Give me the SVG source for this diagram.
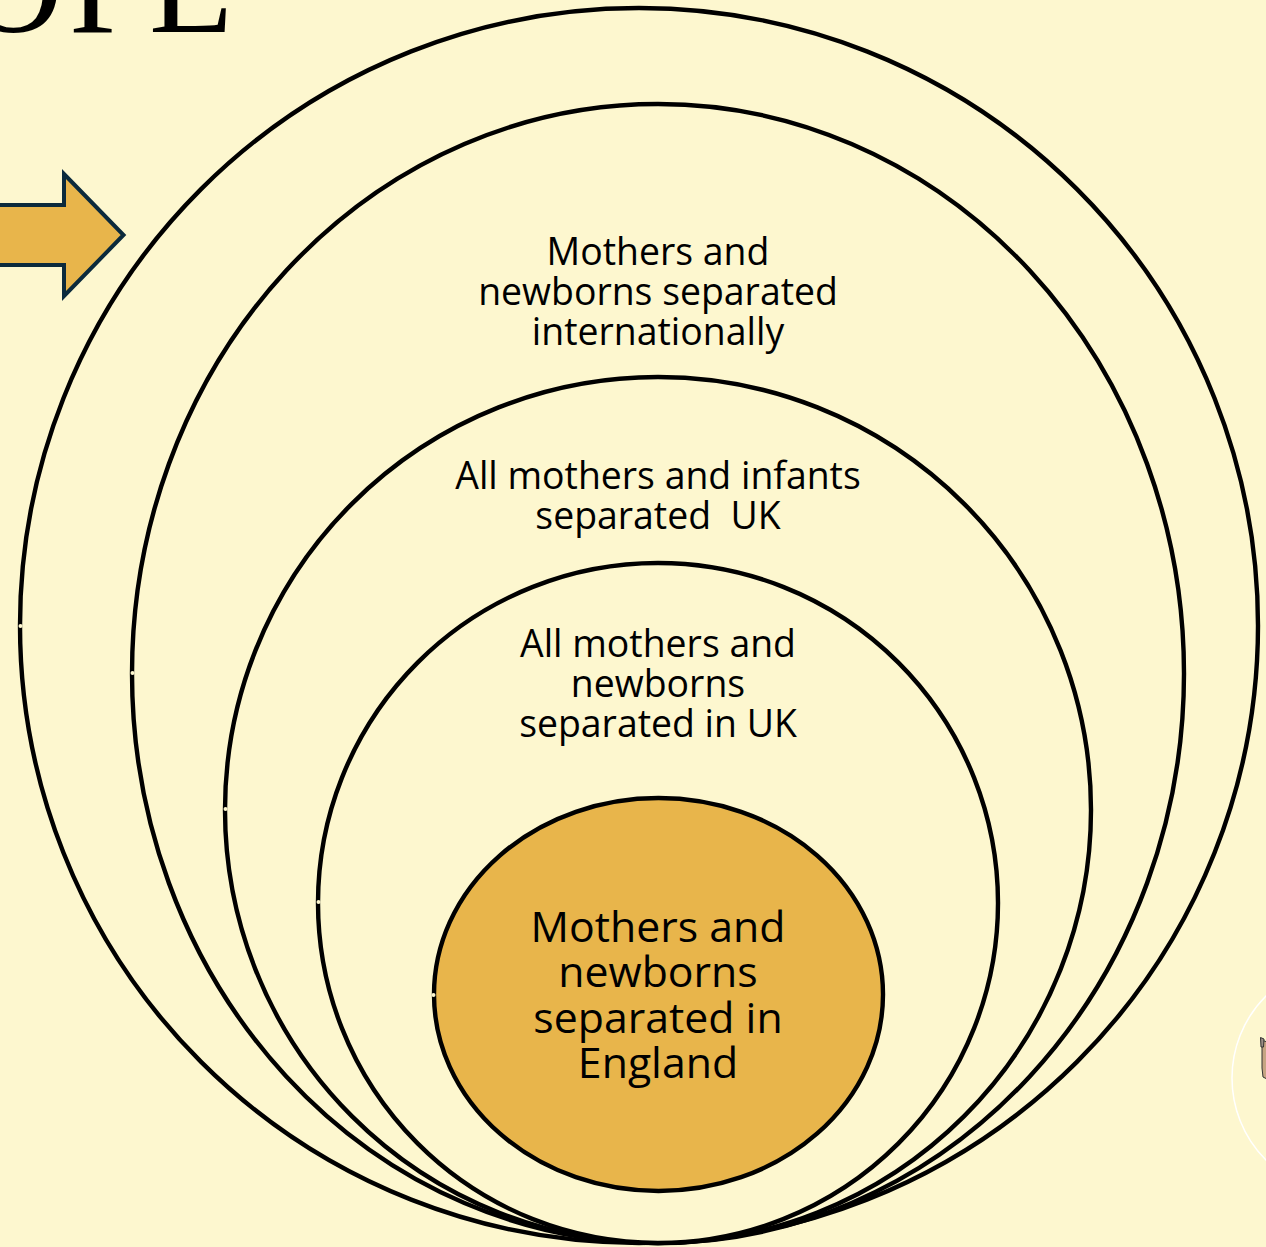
<svg xmlns="http://www.w3.org/2000/svg" width="1266" height="1247" viewBox="0 0 1266 1247">
<style>
.ring{fill:#fdf7cf;stroke:#000;stroke-width:4.4}
.t{font-family:"Open Sans","Noto Sans",sans-serif;font-size:37.4px;fill:#000;text-anchor:middle}
.b{font-size:42.8px}
.dot{fill:#fdf7cf}
</style>
<rect width="1266" height="1247" fill="#fdf7cf"/>
<text id="title" x="-36 69 149" y="32" font-family="Liberation Serif,serif" font-size="137" fill="#000">OPE</text>
<g id="arrow"><path d="M-4 205H64V174L123.500 235L64 296V265H-4Z" fill="#e8b54b" stroke="#0b2a3c" stroke-width="4"/></g>
<g id="badge">
<circle cx="1348" cy="1078" r="116" fill="none" stroke="#fff" stroke-width="1.5"/>
<path d="M1262 1040L1267 1042V1079L1263 1077L1262 1068V1056Z" fill="#c6a582" stroke="#333" stroke-width="1"/>
<path d="M1260.500 1037.500L1264 1039L1263.500 1047L1261 1047Z" fill="#9a8f86" stroke="#333" stroke-width="1"/>
</g>
<g id="node-international">
<ellipse class="ring" cx="639" cy="625.500" rx="619" ry="617.500"/>
<circle class="dot" cx="20.500" cy="626" r="2"/>
</g>
<g id="node-mothers-newborns-international">
<ellipse class="ring" cx="658" cy="673.500" rx="526" ry="569.500"/>
<circle class="dot" cx="132.500" cy="673" r="2"/>
<text class="t" x="658" y="265">Mothers and</text>
<text class="t" x="658" y="305">newborns separated</text>
<text class="t" x="658" y="345">internationally</text>
</g>
<g id="node-all-uk">
<ellipse class="ring" cx="658" cy="810" rx="433" ry="433"/>
<circle class="dot" cx="225.500" cy="809" r="2"/>
<text class="t" x="658" y="489">All mothers and infants</text>
<text class="t" x="658" y="529" xml:space="preserve">separated  UK</text>
</g>
<g id="node-newborns-uk">
<ellipse class="ring" cx="658" cy="903" rx="340" ry="340"/>
<circle class="dot" cx="318.500" cy="902" r="2"/>
<text class="t" x="658" y="657">All mothers and</text>
<text class="t" x="658" y="697">newborns</text>
<text class="t" x="658" y="737">separated in UK</text>
</g>
<g id="node-england">
<ellipse cx="658.500" cy="994.500" rx="224.500" ry="196.500" fill="#e8b54b" stroke="#000" stroke-width="4.4"/>
<circle class="dot" cx="433.500" cy="995" r="2"/>
<text class="t b" x="658" y="942">Mothers and</text>
<text class="t b" x="658" y="987">newborns</text>
<text class="t b" x="658" y="1033">separated in</text>
<text class="t b" x="658" y="1078">England</text>
</g>
<g id="connectors"/>
</svg>
